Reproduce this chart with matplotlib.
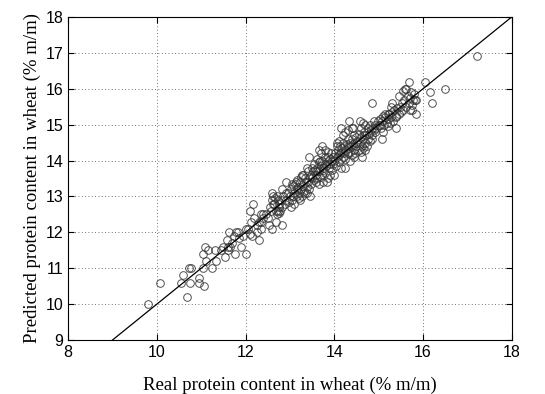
import matplotlib
matplotlib.use("Agg")
import matplotlib.pyplot as plt
import numpy as np

# real (x) vs predicted (y) protein content
real = [
    9.81, 10.06, 10.58, 10.55, 10.68, 10.73, 10.78, 10.75, 10.96, 10.96,
    11.06, 11.04, 11.03, 11.08, 11.10, 11.16, 11.25, 11.31, 11.33, 11.54,
    11.57, 11.63, 11.65, 11.77, 11.79, 11.84, 11.90, 12.00, 12.00, 12.10,
    12.17, 12.12, 12.15, 12.25, 12.30, 12.25, 12.34, 12.35, 12.40, 12.53,
    12.60, 12.60, 12.62, 12.69, 12.74, 12.76, 12.83, 12.81, 12.91, 12.92,
    13.02, 13.07, 13.13, 13.17, 13.22, 13.27, 13.36, 13.39, 13.38, 13.44,
    13.48, 13.49, 13.59, 13.66, 13.72, 13.60, 13.68, 13.75, 13.84, 13.86,
    13.97, 14.00, 14.06, 14.12, 14.15, 14.25, 14.30, 14.33, 14.43, 14.47,
    14.58, 14.63, 14.67, 14.73, 14.84, 14.91, 15.07, 15.02, 15.24, 15.27,
    15.39, 15.45, 15.60, 15.68, 15.71, 15.81, 15.85, 16.05, 16.15, 16.20,
    16.50, 17.22,
    11.45, 11.60, 11.70, 11.75, 11.85, 11.95, 12.05, 12.20, 12.30, 12.40,
    11.60, 11.50, 12.10, 12.35,
    12.45, 12.50, 12.55, 12.60, 12.62, 12.65, 12.68, 12.70, 12.72, 12.75,
    12.78, 12.80, 12.82, 12.85, 12.88, 12.90, 12.95, 12.98, 12.70, 12.58,
    12.66, 12.76,
    13.00, 13.02, 13.05, 13.08, 13.10, 13.12, 13.15, 13.18, 13.20, 13.22,
    13.25, 13.28, 13.30, 13.32, 13.35, 13.38, 13.40, 13.42, 13.45, 13.48,
    13.50, 13.05, 13.15, 13.25, 13.35, 13.45, 13.40, 13.30, 13.20, 13.10,
    13.52, 13.55, 13.55, 13.58, 13.60, 13.62, 13.65, 13.65, 13.68, 13.70,
    13.72, 13.72, 13.75, 13.78, 13.80, 13.80, 13.82, 13.85, 13.85, 13.88,
    13.90, 13.90, 13.92, 13.95, 13.95, 13.98, 13.60, 13.70, 13.80, 13.75,
    13.90, 13.85, 13.65, 13.57,
    14.00, 14.02, 14.03, 14.05, 14.08, 14.10, 14.10, 14.12, 14.15, 14.15,
    14.18, 14.20, 14.20, 14.22, 14.25, 14.25, 14.28, 14.30, 14.30, 14.32,
    14.35, 14.35, 14.38, 14.40, 14.40, 14.42, 14.45, 14.45, 14.48, 14.50,
    14.50, 14.05, 14.15, 14.25, 14.35, 14.45, 14.10, 14.20, 14.30, 14.40,
    14.52, 14.55, 14.55, 14.58, 14.60, 14.60, 14.62, 14.65, 14.68, 14.70,
    14.70, 14.72, 14.75, 14.75, 14.78, 14.80, 14.80, 14.82, 14.85, 14.88,
    14.90, 14.92, 14.95, 14.98, 14.65, 14.60, 14.70, 14.85, 14.90, 14.65,
    15.00, 15.03, 15.05, 15.08, 15.10, 15.12, 15.15, 15.18, 15.20, 15.22,
    15.25, 15.28, 15.30, 15.32, 15.35, 15.38, 15.40, 15.42, 15.45, 15.48,
    15.50, 15.10, 15.20, 15.30, 15.15,
    15.52, 15.55, 15.58, 15.62, 15.65, 15.68, 15.70, 15.72, 15.75, 15.78,
    15.80, 15.62, 15.55, 15.75, 15.85,
]
predicted = [
    10.00, 10.60, 10.80, 10.60, 10.20, 11.00, 11.00, 10.60, 10.72, 10.60,
    10.50, 11.00, 11.40, 11.60, 11.20, 11.50, 11.00, 11.50, 11.20, 11.30,
    11.80, 12.00, 11.60, 11.40, 12.00, 12.00, 11.60, 11.40, 12.10, 12.60,
    12.80, 12.30, 11.90, 12.00, 11.80, 12.20, 12.50, 12.30, 12.40, 12.20,
    12.10, 13.10, 12.80, 12.30, 12.60, 12.80, 12.20, 13.20, 13.10, 13.40,
    12.70, 13.00, 13.40, 13.20, 12.90, 13.60, 13.40, 13.10, 13.80, 14.10,
    13.60, 13.80, 13.40, 14.30, 14.40, 13.70, 14.00, 13.80, 13.40, 14.10,
    13.90, 13.60, 14.50, 14.20, 14.90, 13.80, 14.40, 15.10, 14.90, 14.20,
    15.10, 14.10, 14.70, 14.40, 15.60, 14.80, 14.60, 15.00, 15.30, 15.50,
    14.90, 15.80, 16.00, 16.20, 15.40, 15.70, 15.30, 16.20, 15.90, 15.60,
    16.00, 16.90,
    11.50, 11.60, 11.70, 11.90, 11.85, 11.90, 12.10, 12.40, 12.30, 12.50,
    11.50, 11.60, 11.95, 12.10,
    12.50, 12.40, 12.70, 12.90, 13.00, 12.80, 12.60, 12.50, 12.90, 12.70,
    12.60, 12.90, 12.70, 13.00, 12.80, 12.90, 13.10, 12.85, 13.00, 12.60,
    12.95, 12.55,
    13.00, 13.20, 12.90, 13.30, 13.10, 13.35, 13.00, 13.25, 13.10, 13.40,
    13.20, 13.00, 13.30, 13.15, 13.50, 13.25, 13.40, 13.20, 13.55, 13.35,
    13.50, 13.35, 13.45, 13.55, 13.10, 13.00, 13.70, 13.60, 12.95, 12.80,
    13.70, 13.45, 13.90, 13.60, 13.80, 13.50, 13.70, 13.95, 13.55, 13.85,
    14.00, 13.60, 13.75, 13.90, 14.10, 13.65, 13.85, 14.00, 13.50, 13.80,
    14.05, 13.90, 14.20, 13.75, 14.00, 14.10, 14.05, 14.20, 14.30, 13.40,
    13.60, 14.25, 13.35, 13.75,
    14.00, 14.20, 13.85, 14.10, 14.30, 13.95, 14.15, 14.40, 14.05, 14.25,
    14.35, 14.10, 14.50, 14.20, 14.30, 14.05, 14.45, 14.20, 14.60, 14.35,
    14.25, 14.50, 14.40, 14.15, 14.60, 14.45, 14.30, 14.70, 14.50, 14.40,
    14.65, 14.40, 13.80, 14.80, 14.00, 14.10, 14.55, 14.70, 14.85, 14.90,
    14.55, 14.30, 14.75, 14.50, 14.65, 14.90, 14.40, 14.60, 14.80, 14.50,
    15.00, 14.70, 14.60, 14.90, 14.75, 14.55, 15.00, 14.85, 14.70, 14.90,
    14.85, 15.00, 14.90, 15.10, 15.05, 14.25, 14.30, 14.60, 15.10, 14.35,
    15.00, 15.15, 14.90, 15.10, 15.25, 15.00, 15.20, 15.05, 15.30, 15.15,
    15.05, 15.20, 15.35, 15.10, 15.40, 15.25, 15.20, 15.45, 15.30, 15.50,
    15.35, 14.80, 14.95, 15.60, 15.30,
    15.60, 15.40, 15.70, 15.50, 15.80, 15.60, 15.75, 15.90, 15.55, 15.70,
    15.85, 16.00, 15.95, 15.40, 15.70,
]

fit_x = [9, 18]
fit_y = [9, 18]

fig = plt.figure(figsize=(5.45, 3.94), dpi=100)
ax = fig.add_axes([0.125, 0.137, 0.814, 0.82])

ax.plot(real, predicted, "o", mfc="none", mec="#333333", mew=0.7, ms=5.5, alpha=0.85)
ax.plot(fit_x, fit_y, "-", color="black", lw=0.9)

ax.set_xlim(8, 18)
ax.set_ylim(9, 18)
ax.set_xticks(np.arange(8, 19, 2))
ax.set_yticks(np.arange(9, 19, 1))
ax.grid(True, linestyle=(0, (1, 3)), color="#444444", lw=0.6)
ax.tick_params(direction="in", top=True, right=True, length=4)
for lab in ax.get_xticklabels() + ax.get_yticklabels():
    lab.set_family("Liberation Sans")
    lab.set_fontsize(11.5)
for s in ax.spines.values():
    s.set_linewidth(0.8)

ax.set_xlabel("Real protein content in wheat (% m/m)", family="Liberation Serif", fontsize=13.5, labelpad=12)
ax.set_ylabel("Predicted protein content in wheat (% m/m)", family="Liberation Serif", fontsize=13.5, labelpad=3)

fig.savefig("out.png", dpi=100)
